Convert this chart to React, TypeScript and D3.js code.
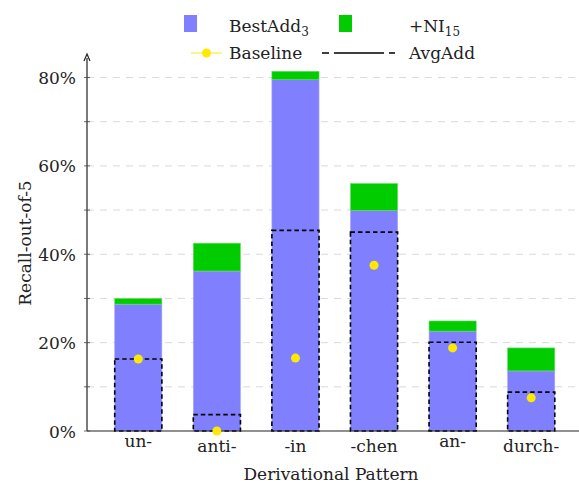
import React from "react";
import * as d3 from "d3";

// values (percent)
const patterns = ["un-", "anti-", "-in", "-chen", "an-", "durch-"];
const bestAdd = [28.7, 36.2, 79.5, 49.9, 22.6, 13.6];
const niGain = [1.3, 6.3, 1.9, 6.1, 2.3, 5.2];
const avgAdd = [16.3, 3.7, 45.4, 45.0, 20.1, 8.8];
const baseline = [16.3, 0.0, 16.5, 37.5, 18.8, 7.5];
const yTicks = [0, 20, 40, 60, 80];
const yGrid = [10, 20, 30, 40, 50, 60, 70, 80];

const W = 579;
const H = 483;
const FONT = "'DejaVu Serif', serif";
const FS = 17;

export default function App() {
  const x = d3
    .scaleBand()
    .domain(patterns)
    .range([99, 570.5])
    .paddingInner(0.4)
    .paddingOuter(0.2);
  const y = d3.scaleLinear().domain([0, 80]).range([431, 77.5]);
  const axisX = 87;
  const bw = x.bandwidth();

  return (
    <svg
      width={W}
      height={H}
      style={{ position: "absolute", left: 0, top: 0, background: "#fff", fontFamily: FONT }}
    >
      {/* grid */}
      {yGrid.map((t) => (
        <line
          key={"g" + t}
          x1={axisX}
          x2={W}
          y1={y(t)}
          y2={y(t)}
          stroke="#dadada"
          strokeWidth={1}
          strokeDasharray="7 6"
        />
      ))}

      {/* bars */}
      {patterns.map((p, i) => {
        const x0 = x(p)!;
        return (
          <g key={p}>
            <rect
              x={x0}
              y={y(bestAdd[i])}
              width={bw}
              height={y(0) - y(bestAdd[i])}
              fill="#8080ff"
              stroke="#a6a6ff"
              strokeWidth={0.6}
            />
            <rect
              x={x0}
              y={y(bestAdd[i] + niGain[i])}
              width={bw}
              height={y(bestAdd[i]) - y(bestAdd[i] + niGain[i])}
              fill="#00cc00"
              stroke="#66dd66"
              strokeWidth={0.6}
            />
          </g>
        );
      })}

      {/* AvgAdd dashed outlines */}
      {patterns.map((p, i) => (
        <rect
          key={"a" + p}
          x={x(p)!}
          y={y(avgAdd[i])}
          width={bw}
          height={y(0) - y(avgAdd[i])}
          fill="none"
          stroke="#000"
          strokeWidth={1.6}
          strokeDasharray="4.5 3"
        />
      ))}

      {/* axes */}
      <line x1={axisX} x2={W} y1={y(0)} y2={y(0)} stroke="#222" strokeWidth={1.2} />
      <line x1={axisX} x2={axisX} y1={y(0)} y2={58} stroke="#222" strokeWidth={1.2} />
      <path d={`M${axisX - 3},${61} L${axisX},${54} L${axisX + 3},${61}`} fill="none" stroke="#222" strokeWidth={1.2} />
      {yGrid.concat([0]).map((t) => (
        <line key={"t" + t} x1={axisX - 3} x2={axisX + 3} y1={y(t)} y2={y(t)} stroke="#444" strokeWidth={0.8} />
      ))}

      {/* baseline dots */}
      {patterns.map((p, i) => (
        <circle key={"b" + p} cx={x(p)! + bw / 2} cy={y(baseline[i])} r={4.5} fill="#ffe900" />
      ))}

      {/* y tick labels */}
      {yTicks.map((t) => (
        <text key={"l" + t} x={76} y={y(t) + 6.5} textAnchor="end" fontSize={FS} fill="#222">
          {t}%
        </text>
      ))}

      {/* x tick labels */}
      {patterns.map((p) => (
        <text
          key={"x" + p}
          x={x(p)! + bw / 2}
          y={/[bdfhiklt]/.test(p) ? 452 : 447}
          textAnchor="middle"
          fontSize={FS}
          fill="#222"
        >
          {p}
        </text>
      ))}

      {/* axis titles */}
      <text x={331} y={480} textAnchor="middle" fontSize={FS} fill="#222">
        Derivational Pattern
      </text>
      <text
        transform={`translate(31,243) rotate(-90)`}
        textAnchor="middle"
        fontSize={FS}
        fill="#222"
      >
        Recall-out-of-5
      </text>

      {/* legend */}
      <rect x={184} y={15} width={13} height={17} fill="#8080ff" />
      <text x={229} y={32} fontSize={FS} fill="#222">
        BestAdd
        <tspan fontSize={12} dy={4}>3</tspan>
      </text>
      <rect x={339} y={15} width={13} height={17} fill="#00cc00" />
      <text x={409} y={32} fontSize={FS} fill="#222">
        +NI
        <tspan fontSize={12} dy={4}>15</tspan>
      </text>
      <line x1={191} x2={222} y1={53} y2={53} stroke="#ffe900" strokeWidth={1} />
      <circle cx={206.5} cy={53} r={4.5} fill="#ffe900" />
      <text x={229} y={59} fontSize={FS} fill="#222">
        Baseline
      </text>
      <line
        x1={322}
        x2={400}
        y1={53}
        y2={53}
        stroke="#000"
        strokeWidth={1.6}
        strokeDasharray="7 5 50 5 6"
      />
      <text x={409} y={59} fontSize={FS} fill="#222">
        AvgAdd
      </text>
    </svg>
  );
}
